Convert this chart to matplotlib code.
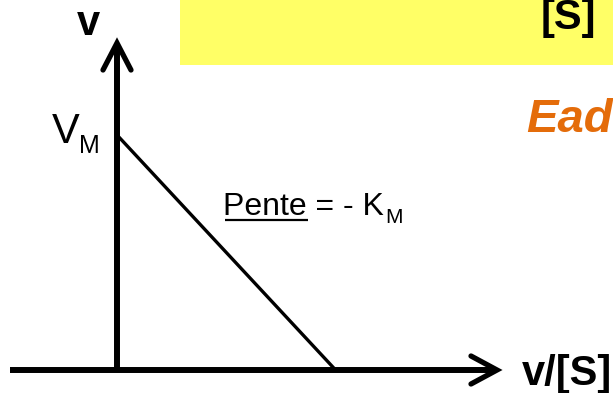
import matplotlib
matplotlib.use("Agg")
import matplotlib.pyplot as plt
from matplotlib.patches import Rectangle

# ---- data ----
VM = 1.0          # intercept on v axis
KM = 1.075        # slope magnitude (Pente = -KM)
x_points = [0.0, VM / KM]
y_points = [VM, 0.0]

# ---- layout helpers (pixel -> data) ----
W, H = 613, 393
S = 235.0           # px per data unit
OX, OY = 117, 370   # origin pixel

def P(px, py):
    return ((px - OX) / S, (OY - py) / S)

plt.rcParams['font.family'] = ['Liberation Sans', 'DejaVu Sans']
fig = plt.figure(figsize=(W / 100, H / 100), dpi=100)
ax = fig.add_axes([0, 0, 1, 1])
ax.set_xlim(-OX / S, (W - OX) / S)
ax.set_ylim(-(H - OY) / S, OY / S)
ax.axis('off')

# yellow title box
x0, y0 = P(180, 65)
x1, y1 = P(613, 0)
ax.add_patch(Rectangle((x0, y0), x1 - x0, y1 - y0, facecolor='#FFFF66',
                       edgecolor='none', zorder=0))
ax.text(*P(541, 29), '[S]', fontsize=30, fontweight='bold', ha='left',
        va='baseline', color='black')
ax.text(*P(526, 132), 'Ead', fontsize=34, fontweight='bold', style='italic',
        ha='left', va='baseline', color='#E46C0A')

# axes lines
ax_lw = 4.3
hx0, _ = P(10, 370)
hx1, _ = P(497, 370)
ax.plot([hx0, hx1], [0, 0], color='black', lw=ax_lw, solid_capstyle='butt')
_, vy1 = P(116, 43)
ax.plot([0, 0], [0, vy1], color='black', lw=ax_lw, solid_capstyle='butt')

# arrow heads (chevrons)
wb, wl = 26 / S, 14 / S
ax.plot([hx1 - wb, hx1, hx1 - wb], [wl, 0, -wl], color='black', lw=3.8,
        solid_capstyle='round', solid_joinstyle='miter')
ax.plot([-wl, 0, wl], [vy1 - 27 / S, vy1, vy1 - 27 / S], color='black', lw=3.8,
        solid_capstyle='round', solid_joinstyle='miter')

# Eadie-Hofstee line
ax.plot(x_points, y_points, color='black', lw=2.4, solid_capstyle='butt')

# axis labels
ax.text(*P(77, 35), 'v', fontsize=30, fontweight='bold', ha='left', va='baseline')
ax.text(*P(522, 385), 'v/[S]', fontsize=30, fontweight='bold', ha='left', va='baseline')

# V_M label
ax.text(*P(52, 143), 'V', fontsize=30, ha='left', va='baseline')
ax.text(*P(79, 153), 'M', fontsize=18, ha='left', va='baseline')

# Pente label
ax.text(*P(223, 215), 'Pente = - K', fontsize=23, ha='left', va='baseline')
ax.text(*P(385, 223), 'M', fontsize=15, ha='left', va='baseline')
ux0, uy = P(225, 219.5)
ux1, _ = P(308, 219.5)
ax.plot([ux0, ux1], [uy, uy], color='black', lw=1.6, solid_capstyle='butt')

fig.savefig('out.png', dpi=100)
